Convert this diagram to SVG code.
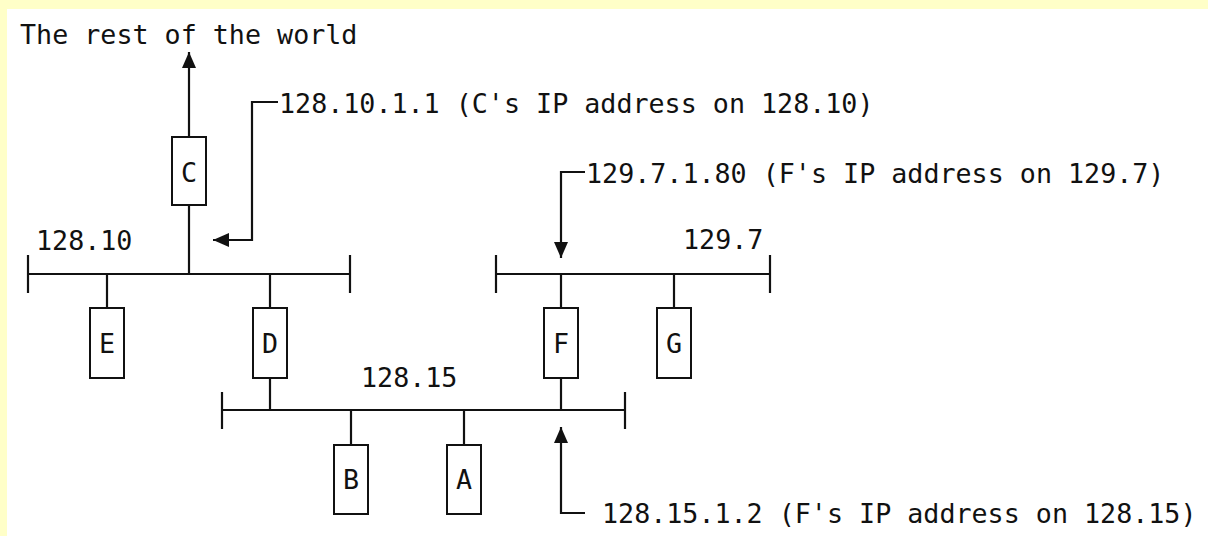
<svg xmlns="http://www.w3.org/2000/svg" width="1208" height="536" viewBox="0 0 1208 536">
<defs>
<style>
.t{font-family:"DejaVu Sans Mono","Liberation Mono",monospace;font-size:26.7px;fill:#111}
.l{fill:#111;font-family:"DejaVu Sans Mono","Liberation Mono",monospace;font-size:26.7px;text-anchor:middle}
.box{fill:#fff;stroke:#111;stroke-width:2}
.w{stroke:#111;stroke-width:2.2;fill:none}
</style>
<marker id="ah" viewBox="0 0 16 14" refX="16" refY="7" markerWidth="16" markerHeight="14" markerUnits="userSpaceOnUse" orient="auto">
<path d="M0,0 L16,7 L0,14 Z" fill="#111"/>
</marker>
</defs>
<rect x="0" y="0" width="1208" height="536" fill="#ffffc8"/>
<rect x="7" y="9" width="1201" height="527" fill="#fff"/>
<g id="connectors">
<line class="w" x1="189" y1="137" x2="189" y2="52" marker-end="url(#ah)"/>
<path class="w" d="M278,102 H252 V240 H213" marker-end="url(#ah)"/>
<path class="w" d="M585,172 H561 V258" marker-end="url(#ah)"/>
<path class="w" d="M585,513 H561 V427" marker-end="url(#ah)"/>
<line class="w" x1="28" y1="274" x2="350" y2="274"/>
<line class="w" x1="28" y1="255" x2="28" y2="293"/>
<line class="w" x1="350" y1="255" x2="350" y2="293"/>
<line class="w" x1="496" y1="274" x2="770" y2="274"/>
<line class="w" x1="496" y1="255" x2="496" y2="293"/>
<line class="w" x1="770" y1="255" x2="770" y2="293"/>
<line class="w" x1="222" y1="410" x2="625" y2="410"/>
<line class="w" x1="222" y1="392" x2="222" y2="429"/>
<line class="w" x1="625" y1="392" x2="625" y2="429"/>
<line class="w" x1="189" y1="205" x2="189" y2="274"/>
<line class="w" x1="107" y1="274" x2="107" y2="308"/>
<line class="w" x1="270" y1="274" x2="270" y2="308"/>
<line class="w" x1="270" y1="378" x2="270" y2="410"/>
<line class="w" x1="561" y1="274" x2="561" y2="308"/>
<line class="w" x1="561" y1="378" x2="561" y2="410"/>
<line class="w" x1="674" y1="274" x2="674" y2="308"/>
<line class="w" x1="351" y1="410" x2="351" y2="445"/>
<line class="w" x1="464" y1="410" x2="464" y2="445"/>
</g>
<g id="labels">
<text class="t" x="20" y="44">The rest of the world</text>
<text class="t" x="279" y="113">128.10.1.1 (C's IP address on 128.10)</text>
<text class="t" x="36" y="250">128.10</text>
<text class="t" x="586" y="183">129.7.1.80 (F's IP address on 129.7)</text>
<text class="t" x="683" y="249">129.7</text>
<text class="t" x="361" y="387">128.15</text>
<text class="t" x="602" y="523">128.15.1.2 (F's IP address on 128.15)</text>
</g>
<g id="node-C"><rect class="box" x="172" y="137" width="34" height="68"/><text class="l" x="189" y="182">C</text></g>
<g id="node-E"><rect class="box" x="90" y="308" width="34" height="70"/><text class="l" x="107" y="353">E</text></g>
<g id="node-D"><rect class="box" x="253" y="308" width="34" height="70"/><text class="l" x="270" y="353">D</text></g>
<g id="node-F"><rect class="box" x="544" y="308" width="34" height="70"/><text class="l" x="561" y="353">F</text></g>
<g id="node-G"><rect class="box" x="657" y="308" width="34" height="70"/><text class="l" x="674" y="353">G</text></g>
<g id="node-B"><rect class="box" x="334" y="445" width="34" height="69"/><text class="l" x="351" y="489">B</text></g>
<g id="node-A"><rect class="box" x="447" y="445" width="34" height="69"/><text class="l" x="464" y="489">A</text></g>
</svg>
